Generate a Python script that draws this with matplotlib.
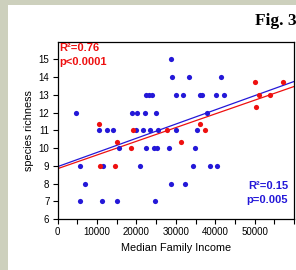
import matplotlib
matplotlib.use("Agg")
import matplotlib.pyplot as plt
from matplotlib.patches import Rectangle
import numpy as np

# ---- data ----
blue_x = [28800, 29100, 33300, 41500,
          22400, 23300, 23900, 30000, 31700, 36100, 36600, 40200, 42300,
          4700, 18800, 20200, 22200, 25000, 38000,
          10400, 12600, 14000, 20000, 21700, 23400, 25500, 30000, 35300,
          15600, 22500, 24400, 25200, 28300, 34900,
          5700, 11400, 21000, 34400, 38700, 40500,
          7000, 28700, 32200,
          5700, 11200, 15100, 24800]
blue_y = [15, 14, 14, 14,
          13, 13, 13, 13, 13, 13, 13, 13, 13,
          12, 12, 12, 12, 12, 12,
          11, 11, 11, 11, 11, 11, 11, 11, 11,
          10, 10, 10, 10, 10, 10,
          9, 9, 9, 9, 9, 9,
          8, 8, 8,
          7, 7, 7, 7]
red_x = [10400, 10700, 14600, 15100, 18700, 19100, 27700, 31400, 36200, 37500,
         50000, 50400, 51000, 54000, 57300]
red_y = [11.33, 9, 9, 10.33, 10, 11, 11, 10.33, 11.35, 11,
         13.72, 12.33, 13, 13, 13.72]

# regression lines (intercept, slope)
blue_fit = (8.955, 8.0e-5)
red_fit = (8.84, 7.72e-5)

blue_stats = ["R\u00b2=0.15", "p=0.005"]
red_stats = ["R\u00b2=0.76", "p<0.0001"]

x_ticks = [0, 10000, 20000, 30000, 40000, 50000]
y_ticks = [6, 7, 8, 9, 10, 11, 12, 13, 14, 15]

BLUE = "#2418d8"
RED = "#ee1010"

plt.rcParams['font.family'] = ['Liberation Sans', 'DejaVu Sans']

W, H = 296, 270
fig = plt.figure(figsize=(W / 100, H / 100), dpi=100)
fig.patch.set_facecolor("#cdd0bd")
# white slide panel
fig.add_artist(Rectangle((8 / W, 0), 1 - 8 / W, 1 - 5 / H, transform=fig.transFigure,
                         facecolor="white", edgecolor="none", zorder=0))

ax = fig.add_axes([57.7 / W, (H - 219) / H, (294 - 57.7) / W, (219 - 41.7) / H])
ax.set_xlim(0, 60000)
ax.set_ylim(6, 16)

xs = np.array([0, 60000])
ax.plot(xs, blue_fit[0] + blue_fit[1] * xs, color=BLUE, lw=0.9, zorder=2)
ax.plot(xs, red_fit[0] + red_fit[1] * xs, color=RED, lw=0.9, zorder=2)

ax.scatter(blue_x, blue_y, s=14, color=BLUE, linewidths=0, zorder=3)
ax.scatter(red_x, red_y, s=14, color=RED, linewidths=0, zorder=3)

ax.set_xticks(x_ticks)
ax.set_xticklabels([str(v) for v in x_ticks])
ax.set_xticks(np.arange(0, 60001, 5000), minor=True)
ax.set_yticks(y_ticks)
ax.set_yticklabels([str(v) for v in y_ticks])
ax.tick_params(axis='both', which='both', direction='out', length=3.5, width=0.8,
               labelsize=7, pad=2.5, color='black')
ax.tick_params(axis='y', which='minor', length=0)
for s in ax.spines.values():
    s.set_linewidth(0.9)
    s.set_color("black")

ax.set_xlabel("Median Family Income", fontsize=7.8, labelpad=4)
ax.set_ylabel("species richness", fontsize=7.8, labelpad=3)

ax.text(0.008, 0.995, red_stats[0], transform=ax.transAxes, color=RED,
        fontsize=8, fontweight='bold', va='top', ha='left')
ax.text(0.008, 0.915, red_stats[1], transform=ax.transAxes, color=RED,
        fontsize=8, fontweight='bold', va='top', ha='left')
ax.text(0.975, 0.215, blue_stats[0], transform=ax.transAxes, color=BLUE,
        fontsize=8, fontweight='bold', va='top', ha='right')
ax.text(0.975, 0.135, blue_stats[1], transform=ax.transAxes, color=BLUE,
        fontsize=8, fontweight='bold', va='top', ha='right')

fig.text(297 / W, 1 - 25 / H, "Fig. 3", family=['Liberation Serif', 'DejaVu Serif'],
         fontweight='bold', fontsize=12.5, ha='right', va='baseline')

fig.savefig("out.png", dpi=100, facecolor=fig.get_facecolor())
